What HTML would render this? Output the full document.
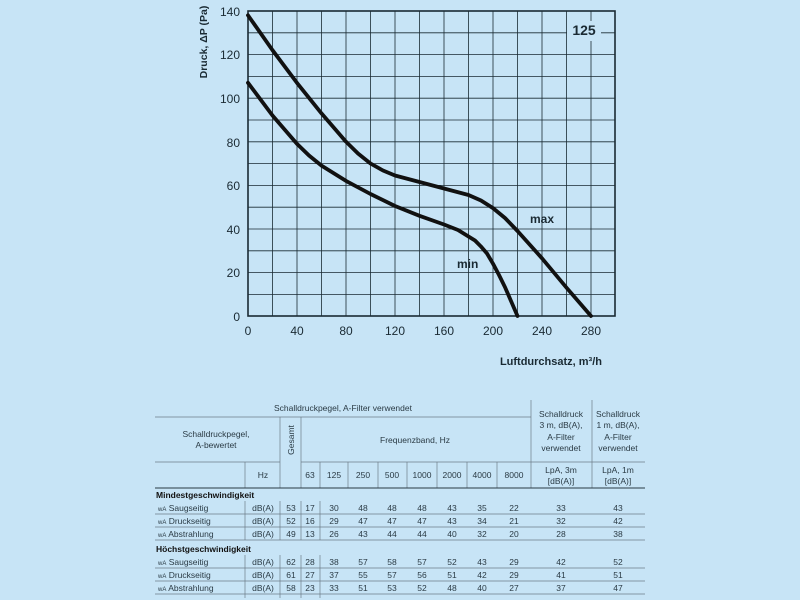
<!DOCTYPE html>
<html><head><meta charset="utf-8"><style>
html,body{margin:0;padding:0;background:#c7e4f6;}
svg{display:block;font-family:"Liberation Sans",sans-serif;}
</style></head><body>
<svg width="800" height="600" viewBox="0 0 800 600" xmlns="http://www.w3.org/2000/svg">
<rect width="800" height="600" fill="#c7e4f6"/>
<g stroke="#1a2a33" stroke-width="0.8">
<line x1="272.5" y1="11" x2="272.5" y2="316"/><line x1="297" y1="11" x2="297" y2="316"/>
<line x1="321.5" y1="11" x2="321.5" y2="316"/><line x1="346" y1="11" x2="346" y2="316"/>
<line x1="370.5" y1="11" x2="370.5" y2="316"/><line x1="395" y1="11" x2="395" y2="316"/>
<line x1="419.5" y1="11" x2="419.5" y2="316"/><line x1="444" y1="11" x2="444" y2="316"/>
<line x1="468.5" y1="11" x2="468.5" y2="316"/><line x1="493" y1="11" x2="493" y2="316"/>
<line x1="517.5" y1="11" x2="517.5" y2="316"/><line x1="542" y1="11" x2="542" y2="316"/>
<line x1="566.5" y1="11" x2="566.5" y2="316"/><line x1="591" y1="11" x2="591" y2="316"/>
<line x1="248" y1="32.8" x2="615" y2="32.8"/><line x1="248" y1="54.6" x2="615" y2="54.6"/>
<line x1="248" y1="76.4" x2="615" y2="76.4"/><line x1="248" y1="98.2" x2="615" y2="98.2"/>
<line x1="248" y1="120" x2="615" y2="120"/><line x1="248" y1="141.8" x2="615" y2="141.8"/>
<line x1="248" y1="163.6" x2="615" y2="163.6"/><line x1="248" y1="185.4" x2="615" y2="185.4"/>
<line x1="248" y1="207.2" x2="615" y2="207.2"/><line x1="248" y1="229" x2="615" y2="229"/>
<line x1="248" y1="250.8" x2="615" y2="250.8"/><line x1="248" y1="272.6" x2="615" y2="272.6"/>
<line x1="248" y1="294.4" x2="615" y2="294.4"/>
</g>
<rect x="248" y="11" width="367" height="305" fill="none" stroke="#1a2a33" stroke-width="1.6"/>
<rect x="567" y="21" width="34" height="20" fill="#c7e4f6"/>
<text x="584" y="35" font-size="14" font-weight="bold" text-anchor="middle" fill="#1a2a33">125</text>
<g fill="none" stroke="#111" stroke-width="3.8" stroke-linejoin="round" stroke-linecap="round">
<polyline points="248,15.3 272.5,50.2 297,82.9 321.5,113.4 346,141.7 358,153.5 370.5,163.5 383,170.5 395,175.5 419.5,182 444,188.5 468.5,195 481,200.5 493,208.1 505,218 517.5,231 542,258.3 566.5,287.7 591,316"/>
<polyline points="248,82.8 272.5,115.5 297,143.9 309,155.5 321.5,165.6 346,180.9 370.5,194 395,206 419.5,215.8 444,224.5 458,230 468.5,236.5 475,240.5 480.75,246.3 487,253.5 493,263.7 499,275 505.25,287.7 511,301 517.5,316"/>
</g>
<text x="530" y="223" font-size="12" font-weight="bold" fill="#1a2a33">max</text>
<text x="457" y="268" font-size="12" font-weight="bold" fill="#1a2a33">min</text>
<g font-size="12" fill="#1a2a33" text-anchor="end">
<text x="240" y="16">140</text><text x="240" y="59">120</text><text x="240" y="103">100</text>
<text x="240" y="147">80</text><text x="240" y="190">60</text><text x="240" y="234">40</text>
<text x="240" y="277">20</text><text x="240" y="321">0</text>
</g>
<g font-size="12" fill="#1a2a33" text-anchor="middle">
<text x="248" y="335">0</text><text x="297" y="335">40</text><text x="346" y="335">80</text>
<text x="395" y="335">120</text><text x="444" y="335">160</text><text x="493" y="335">200</text>
<text x="542" y="335">240</text><text x="591" y="335">280</text>
</g>
<text transform="translate(207,42) rotate(-90)" font-size="10.5" font-weight="bold" text-anchor="middle" fill="#1a2a33">Druck, ΔP (Pa)</text>
<text x="602" y="365" font-size="11" font-weight="bold" text-anchor="end" fill="#1a2a33">Luftdurchsatz, m³/h</text>

<g stroke="#6d7d88" stroke-width="0.7">
<line x1="155" y1="417" x2="531" y2="417"/>
<line x1="155" y1="462" x2="280" y2="462"/><line x1="301" y1="462" x2="645" y2="462"/>
<line x1="531" y1="400" x2="531" y2="488"/><line x1="592" y1="400" x2="592" y2="488"/>
<line x1="280" y1="417" x2="280" y2="488"/><line x1="301" y1="417" x2="301" y2="488"/>
<line x1="245" y1="462" x2="245" y2="488"/><line x1="320" y1="462" x2="320" y2="488"/>
<line x1="348" y1="462" x2="348" y2="488"/><line x1="378" y1="462" x2="378" y2="488"/>
<line x1="407" y1="462" x2="407" y2="488"/><line x1="437" y1="462" x2="437" y2="488"/>
<line x1="467" y1="462" x2="467" y2="488"/><line x1="497" y1="462" x2="497" y2="488"/>
<line x1="155" y1="514" x2="645" y2="514"/><line x1="155" y1="527" x2="645" y2="527"/>
<line x1="155" y1="540" x2="645" y2="540"/>
<line x1="155" y1="568" x2="645" y2="568"/><line x1="155" y1="581" x2="645" y2="581"/>
<line x1="155" y1="594" x2="645" y2="594"/>
<line x1="245" y1="501" x2="245" y2="540"/><line x1="280" y1="501" x2="280" y2="540"/>
<line x1="301" y1="501" x2="301" y2="540"/><line x1="320" y1="501" x2="320" y2="540"/>
<line x1="245" y1="555" x2="245" y2="598"/><line x1="280" y1="555" x2="280" y2="598"/>
<line x1="301" y1="555" x2="301" y2="598"/><line x1="320" y1="555" x2="320" y2="598"/>
</g>
<line x1="155" y1="488" x2="645" y2="488" stroke="#2a3a44" stroke-width="1"/>
<g font-size="8.5" fill="#2a3a44" text-anchor="middle">
<text x="343" y="411">Schalldruckpegel, A-Filter verwendet</text>
<text x="216" y="437">Schalldruckpegel,</text><text x="216" y="448">A-bewertet</text>
<text x="415" y="443">Frequenzband, Hz</text>
<text transform="translate(294,440) rotate(-90)">Gesamt</text>
<text x="561" y="417">Schalldruck</text><text x="561" y="428">3 m, dB(A),</text><text x="561" y="440">A-Filter</text><text x="561" y="451">verwendet</text>
<text x="618" y="417">Schalldruck</text><text x="618" y="428">1 m, dB(A),</text><text x="618" y="440">A-Filter</text><text x="618" y="451">verwendet</text>
<text x="263" y="478">Hz</text>
<text x="310" y="478">63</text><text x="334" y="478">125</text><text x="363" y="478">250</text>
<text x="392" y="478">500</text><text x="422" y="478">1000</text><text x="452" y="478">2000</text>
<text x="482" y="478">4000</text><text x="514" y="478">8000</text>
<text x="561" y="473">LpA, 3m</text><text x="561" y="484">[dB(A)]</text>
<text x="618" y="473">LpA, 1m</text><text x="618" y="484">[dB(A)]</text>
</g>
<g font-size="8.5" font-weight="bold" fill="#111">
<text x="156" y="498">Mindestgeschwindigkeit</text>
<text x="156" y="552">Höchstgeschwindigkeit</text>
</g>
<g font-size="8.5" fill="#2a3a44">
<text x="158" y="511"><tspan font-size="6">wA</tspan> Saugseitig</text>
<text x="158" y="524"><tspan font-size="6">wA</tspan> Druckseitig</text>
<text x="158" y="537"><tspan font-size="6">wA</tspan> Abstrahlung</text>
<text x="158" y="565"><tspan font-size="6">wA</tspan> Saugseitig</text>
<text x="158" y="578"><tspan font-size="6">wA</tspan> Druckseitig</text>
<text x="158" y="591"><tspan font-size="6">wA</tspan> Abstrahlung</text>
</g>
<g font-size="8.5" fill="#2a3a44" text-anchor="middle">
<g transform="translate(0,511)"><text x="263">dB(A)</text><text x="291">53</text><text x="310">17</text><text x="334">30</text><text x="363">48</text><text x="392">48</text><text x="422">48</text><text x="452">43</text><text x="482">35</text><text x="514">22</text><text x="561">33</text><text x="618">43</text></g>
<g transform="translate(0,524)"><text x="263">dB(A)</text><text x="291">52</text><text x="310">16</text><text x="334">29</text><text x="363">47</text><text x="392">47</text><text x="422">47</text><text x="452">43</text><text x="482">34</text><text x="514">21</text><text x="561">32</text><text x="618">42</text></g>
<g transform="translate(0,537)"><text x="263">dB(A)</text><text x="291">49</text><text x="310">13</text><text x="334">26</text><text x="363">43</text><text x="392">44</text><text x="422">44</text><text x="452">40</text><text x="482">32</text><text x="514">20</text><text x="561">28</text><text x="618">38</text></g>
<g transform="translate(0,565)"><text x="263">dB(A)</text><text x="291">62</text><text x="310">28</text><text x="334">38</text><text x="363">57</text><text x="392">58</text><text x="422">57</text><text x="452">52</text><text x="482">43</text><text x="514">29</text><text x="561">42</text><text x="618">52</text></g>
<g transform="translate(0,578)"><text x="263">dB(A)</text><text x="291">61</text><text x="310">27</text><text x="334">37</text><text x="363">55</text><text x="392">57</text><text x="422">56</text><text x="452">51</text><text x="482">42</text><text x="514">29</text><text x="561">41</text><text x="618">51</text></g>
<g transform="translate(0,591)"><text x="263">dB(A)</text><text x="291">58</text><text x="310">23</text><text x="334">33</text><text x="363">51</text><text x="392">53</text><text x="422">52</text><text x="452">48</text><text x="482">40</text><text x="514">27</text><text x="561">37</text><text x="618">47</text></g>
</g>
</svg>
</body></html>
